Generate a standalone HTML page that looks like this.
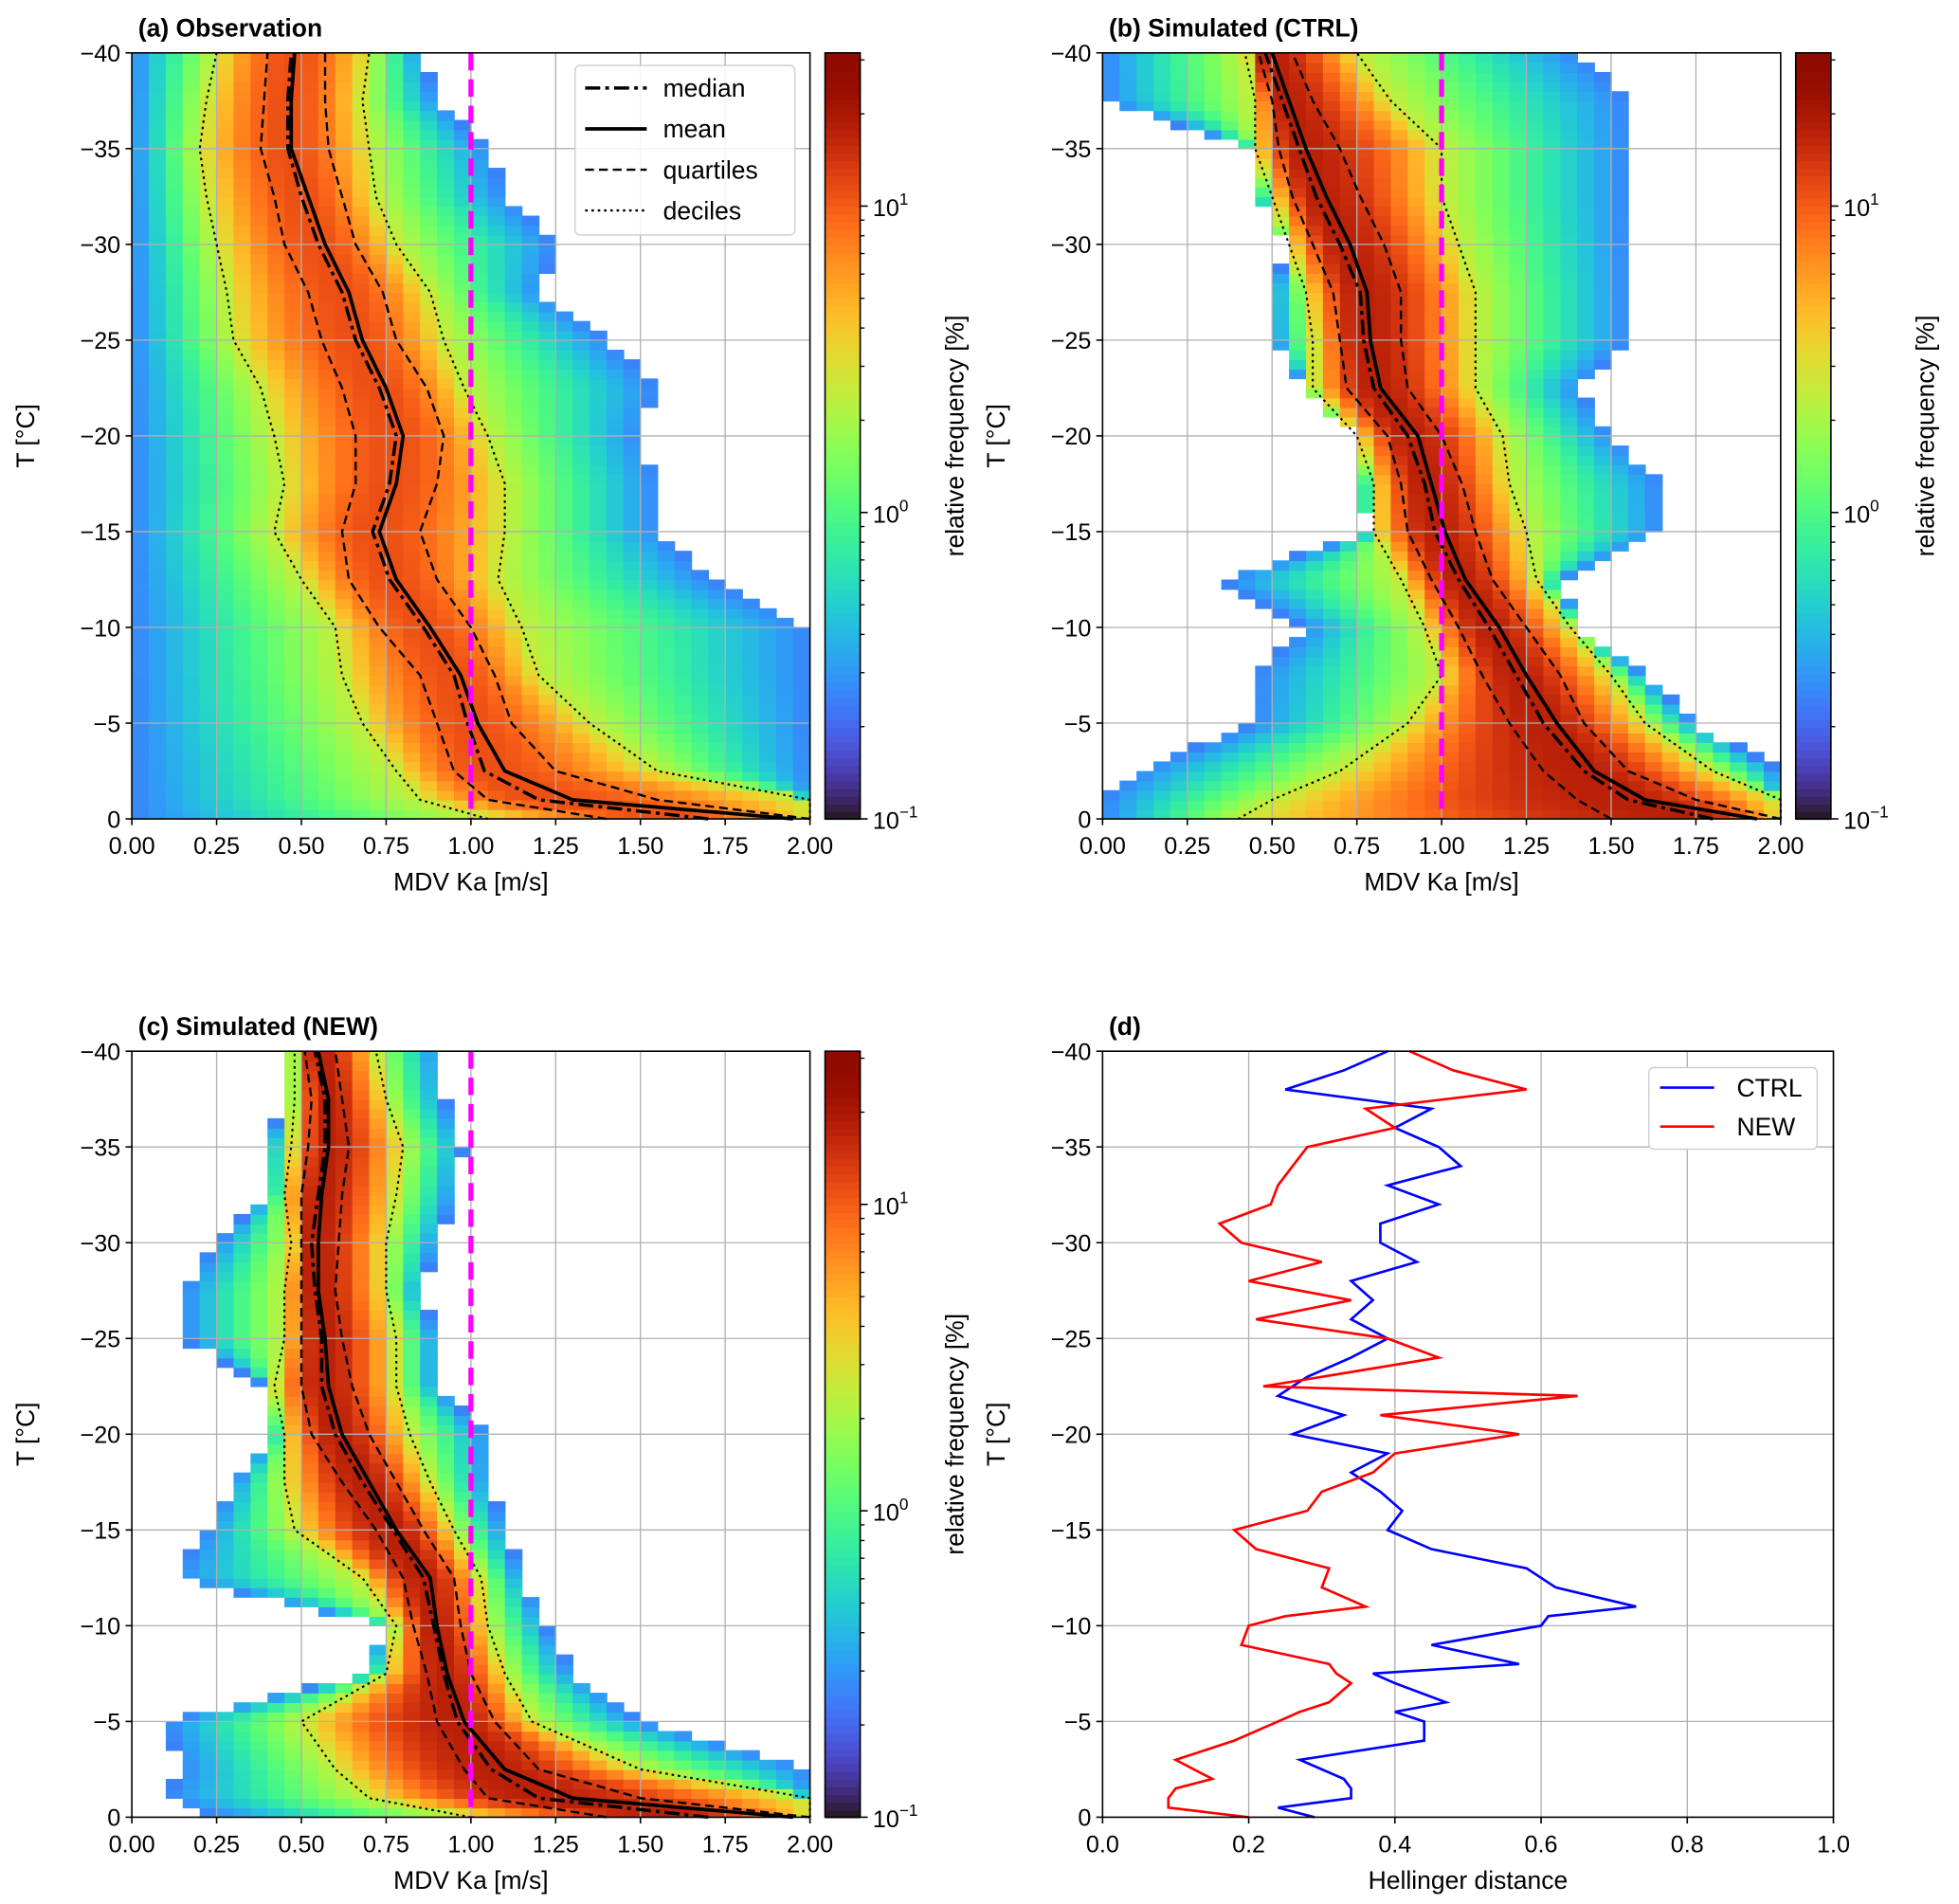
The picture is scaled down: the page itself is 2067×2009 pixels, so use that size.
<!DOCTYPE html>
<html><head><meta charset="utf-8"><style>
html,body{margin:0;padding:0;background:#fff;}
svg{display:block;font-family:"Liberation Sans","DejaVu Sans",sans-serif;}
</style></head><body>
<svg id="fig" width="2067" height="2009" viewBox="0 0 1560 1516" xmlns="http://www.w3.org/2000/svg"></svg>
<script>
// ---- data ----
const Tlev=[0,-1,-2.5,-5,-7.5,-10,-12.5,-15,-17.5,-20,-22.5,-25,-27.5,-30,-32.5,-35,-37.5,-40];
const aMean=[1.95,1.3,1.1,1.02,0.97,0.88,0.78,0.73,0.78,0.8,0.75,0.68,0.64,0.57,0.52,0.47,0.47,0.48];
const aMedian=[1.7,1.2,1.04,0.99,0.95,0.86,0.76,0.71,0.76,0.78,0.73,0.66,0.62,0.55,0.5,0.46,0.46,0.47];
const aQ1=[1.4,1.05,0.95,0.9,0.85,0.73,0.64,0.62,0.66,0.66,0.62,0.56,0.52,0.45,0.42,0.38,0.39,0.4];
const aQ3=[2.0,1.55,1.25,1.12,1.07,1.0,0.9,0.85,0.9,0.92,0.87,0.78,0.74,0.66,0.62,0.58,0.57,0.57];
const aD1=[1.05,0.85,0.78,0.68,0.62,0.6,0.5,0.42,0.45,0.42,0.38,0.3,0.28,0.25,0.22,0.2,0.22,0.25];
const aD9=[2.0,2.0,1.55,1.35,1.2,1.15,1.08,1.1,1.1,1.05,0.98,0.92,0.88,0.78,0.72,0.7,0.68,0.7];
const aLo=[0,0,0,0,0,0,0,0,0,0,0,0,0,0,0,0,0,0];
const aHi=[2,2,2,2,2,2,1.7,1.55,1.55,1.5,1.55,1.4,1.2,1.25,1.1,1.05,0.9,0.85];

const bMean=[1.93,1.6,1.45,1.34,1.25,1.17,1.07,1.01,0.97,0.93,0.82,0.79,0.78,0.73,0.66,0.6,0.55,0.5];
const bMedian=[1.8,1.55,1.42,1.3,1.22,1.14,1.05,0.98,0.95,0.9,0.8,0.77,0.76,0.7,0.63,0.58,0.53,0.48];
const bQ1=[1.5,1.4,1.3,1.2,1.12,1.05,0.97,0.9,0.88,0.84,0.72,0.7,0.68,0.62,0.56,0.52,0.5,0.46];
const bQ3=[2.0,1.75,1.55,1.42,1.35,1.25,1.15,1.1,1.06,1.0,0.9,0.88,0.88,0.83,0.76,0.7,0.62,0.56];
const bD1=[0.4,0.5,0.7,0.9,1.0,0.95,0.88,0.8,0.8,0.75,0.62,0.62,0.6,0.55,0.5,0.45,0.45,0.42];
const bD9=[2.0,2.0,1.8,1.6,1.5,1.38,1.28,1.25,1.2,1.18,1.1,1.1,1.1,1.05,1.0,1.0,0.85,0.75];
const bLo=[0,0,0.1,0.45,0.45,0.6,0.35,0.8,0.75,0.75,0.6,0.5,0.5,0.55,0.45,0.45,0,0];
const bHi=[2,2,2,1.75,1.6,1.4,1.35,1.65,1.65,1.5,1.4,1.55,1.55,1.55,1.55,1.55,1.55,1.4];

const cMean=[1.95,1.3,1.1,0.98,0.93,0.9,0.88,0.78,0.7,0.62,0.58,0.57,0.55,0.55,0.56,0.58,0.58,0.55];
const cMedian=[1.7,1.2,1.06,0.96,0.92,0.89,0.86,0.77,0.68,0.6,0.56,0.56,0.54,0.53,0.55,0.57,0.57,0.54];
const cQ1=[1.4,1.05,0.98,0.9,0.87,0.83,0.8,0.72,0.62,0.53,0.5,0.5,0.5,0.5,0.5,0.52,0.53,0.51];
const cQ3=[2.0,1.5,1.2,1.07,1.0,0.97,0.95,0.86,0.78,0.7,0.65,0.62,0.6,0.61,0.62,0.64,0.62,0.6];
const cD1=[1.0,0.7,0.6,0.5,0.75,0.78,0.68,0.48,0.45,0.45,0.42,0.45,0.45,0.47,0.45,0.47,0.48,0.48];
const cD9=[2.0,2.0,1.5,1.18,1.1,1.05,1.03,0.95,0.88,0.82,0.78,0.78,0.75,0.75,0.78,0.8,0.75,0.72];
const cLo=[0.25,0.1,0.15,0.1,0.7,0.75,0.12,0.22,0.3,0.42,0.4,0.15,0.15,0.25,0.4,0.4,0.45,0.45];
const cHi=[2,2,2,1.5,1.3,1.22,1.15,1.1,1.05,1.05,0.9,0.9,0.85,0.9,0.95,0.98,0.92,0.9];

const hT=[0,-0.5,-1,-1.5,-2,-3,-4,-5,-5.5,-6,-7,-7.5,-8,-9,-10,-10.5,-11,-12,-13,-14,-15,-16,-17,-18,-19,-20,-21,-22,-22.5,-23,-24,-25,-26,-27,-28,-29,-30,-31,-32,-33,-34,-35,-36,-37,-38,-39,-40];
const hCtrl=[0.29,0.24,0.34,0.34,0.33,0.27,0.44,0.44,0.40,0.47,0.40,0.37,0.57,0.45,0.60,0.61,0.73,0.62,0.58,0.45,0.39,0.41,0.38,0.34,0.39,0.26,0.33,0.24,0.26,0.28,0.34,0.39,0.34,0.37,0.34,0.43,0.38,0.38,0.46,0.39,0.49,0.46,0.40,0.45,0.25,0.33,0.39];
const hNew=[0.20,0.09,0.09,0.10,0.15,0.10,0.18,0.24,0.27,0.31,0.34,0.32,0.31,0.19,0.20,0.25,0.36,0.30,0.31,0.21,0.18,0.28,0.30,0.37,0.40,0.57,0.38,0.65,0.22,0.30,0.46,0.39,0.21,0.34,0.20,0.30,0.19,0.16,0.23,0.24,0.26,0.28,0.40,0.36,0.58,0.48,0.42];

const yTicks=[0,-5,-10,-15,-20,-25,-30,-35,-40];
const xTicksMDV=[0,0.25,0.5,0.75,1.0,1.25,1.5,1.75,2.0];
const xTicksH=[0,0.2,0.4,0.6,0.8,1.0];

// ---- helpers ----
const NS="http://www.w3.org/2000/svg";
const fig=document.getElementById('fig');
function el(tag,attrs,parent,text){const e=document.createElementNS(NS,tag);for(const k in attrs)e.setAttribute(k,attrs[k]);if(text!==undefined)e.textContent=text;(parent||fig).appendChild(e);return e;}
function turbo(x){x=Math.max(0,Math.min(1,x));
 const r=0.13572138+x*(4.61539260+x*(-42.66032258+x*(132.13108234+x*(-152.94239396+x*59.28637943))));
 const g=0.09140261+x*(2.19418839+x*(4.84296658+x*(-14.18503333+x*(4.27729857+x*2.82956604))));
 const b=0.10667330+x*(12.64194608+x*(-60.58204836+x*(110.36276771+x*(-89.90310912+x*27.34824973))));
 const c=v=>Math.round(255*Math.max(0,Math.min(1,v)));return `rgb(${c(r)},${c(g)},${c(b)})`;}
function interp(arr,T){for(let i=0;i<Tlev.length-1;i++){if(T<=Tlev[i]&&T>=Tlev[i+1]){const t=(Tlev[i]-T)/(Tlev[i]-Tlev[i+1]);return arr[i]+(arr[i+1]-arr[i])*t;}}return arr[arr.length-1];}
const fmt=v=>(v<0?'\u2212':'')+Math.abs(v);

function axesFrame(g,x0,y0,w,h,xsc,ysc,xt){
  xt.forEach(v=>{const l=el('line',{x1:xsc(v),x2:xsc(v),y1:y0,y2:y0+h,stroke:'#b0b0b0','stroke-width':1},g);
    });
  yTicks.forEach(v=>{const l=el('line',{x1:x0,x2:x0+w,y1:ysc(v),y2:ysc(v),stroke:'#b0b0b0','stroke-width':1},g);
    });
}
function axesDecor(g,x0,y0,w,h,xsc,ysc,xt,xdec,title,xlabel){
  const fr=el('rect',{x:x0,y:y0,width:w,height:h,fill:'none',stroke:'#000','stroke-width':1.2},g);
  
  xt.forEach(v=>{el('line',{x1:xsc(v),x2:xsc(v),y1:y0+h,y2:y0+h+5,stroke:'#000','stroke-width':1.2},g);
    const t=el('text',{x:xsc(v),y:y0+h+28,'font-size':19,'text-anchor':'middle'},g,v.toFixed(xdec));
    });
  yTicks.forEach(v=>{el('line',{x1:x0-5,x2:x0,y1:ysc(v),y2:ysc(v),stroke:'#000','stroke-width':1.2},g);
    const t=el('text',{x:x0-9,y:ysc(v)+7,'font-size':19,'text-anchor':'end'},g,fmt(v));
    });
  const tt=el('text',{x:x0+5,y:y0-13,'font-size':20,'font-weight':'bold'},g,title);
  
  const xl=el('text',{x:x0+w/2,y:y0+h+57,'font-size':20,'text-anchor':'middle'},g,xlabel);
  
  const yl=el('text',{x:0,y:0,'font-size':20,'text-anchor':'middle',transform:`translate(${x0-78},${y0+h/2}) rotate(-90)`},g,'T [°C]');
  
}

function histPanel(name,x0,y0,title,P,peak){
  const w=540,h=610;
  const g=el('g',{});
  const xsc=v=>x0+v/2*w;
  const Y=T=>y0+h-(-T)/40*h;
  const hm=el('g',{},g);
  for(let r=0;r<80;r++){
    const Tc=-(r+0.5)*0.5;
    const med=interp(P.median,Tc),d1=interp(P.d1,Tc),d9=interp(P.d9,Tc),lo=interp(P.lo,Tc),hi=interp(P.hi,Tc);
    for(let c=0;c<40;c++){
      const v=(c+0.5)*0.05;
      if(v<lo||v>hi)continue;
      let f;
      if(v>=d1&&v<=d9){const d=v<med?(med-v)/Math.max(0.02,med-d1):(v-med)/Math.max(0.02,d9-med);f=peak-(peak-0.4)*d*d;}
      else if(v<d1){const t=(d1-v)/Math.max(0.05,d1-lo);f=0.4-1.0*t;}
      else {const t=(v-d9)/Math.max(0.05,hi-d9);f=0.4-1.0*t;}
      const cell=el('rect',{x:xsc(c*0.05),y:Y(-(r+1)*0.5),width:w/40+0.6,height:h/80+0.6,fill:turbo((f+1)/2.5)},hm);
      
    }
  }
  axesFrame(g,x0,y0,w,h,xsc,Y,xTicksMDV);
  const T2=[];for(let T=0;T>=-40;T-=0.5)T2.push(T);
  const path=arr=>T2.map((T,i)=>(i?'L':'M')+xsc(Math.min(2,interp(arr,T))).toFixed(1)+','+Y(T).toFixed(1)).join('');
  const styles=[['d1','decile-line-low','1.6','2,3'],['d9','decile-line-high','1.6','2,3'],
    ['q1','quartile-line-low','1.8','7,4'],['q3','quartile-line-high','1.8','7,4'],
    ['median','median-line','2.6','12,4,3,4'],['mean','mean-line','2.8','']];
  styles.forEach(s=>{const p=el('path',{d:path(P[s[0]]),fill:'none',stroke:'#000','stroke-width':s[2],'stroke-dasharray':s[3]||'none'},g);
    });
  const mg=el('line',{x1:xsc(1),x2:xsc(1),y1:y0,y2:y0+h,stroke:'#ff00ff','stroke-width':4,'stroke-dasharray':'14,7'},g);
  
  axesDecor(g,x0,y0,w,h,xsc,Y,xTicksMDV,2,title,'MDV  Ka [m/s]');
  const cx=x0+w+12,cw=28;
  const cb=el('g',{},g);
  const N=100;for(let i=0;i<N;i++){el('rect',{x:cx,y:y0+h-(i+1)*h/N,width:cw,height:h/N+0.8,fill:turbo((i+0.5)/N)},cb);}
  el('rect',{x:cx,y:y0,width:cw,height:h,fill:'none',stroke:'#000','stroke-width':1.2},cb);
  const cy=lf=>y0+h-(lf+1)/2.5*h;
  [-1,0,1].forEach(e=>{el('line',{x1:cx+cw,x2:cx+cw+6,y1:cy(e),y2:cy(e),stroke:'#000','stroke-width':1.2},cb);
    const t=el('text',{x:cx+cw+10,y:cy(e)+8,'font-size':19},cb,'10');
    el('tspan',{dy:-9,'font-size':13},t,String(e).replace('-','\u2212'));
    });
  for(let e=-1;e<=1;e++)for(let m=2;m<=9;m++){const lf=e+Math.log10(m);if(lf>1.5)continue;
    el('line',{x1:cx+cw,x2:cx+cw+3.5,y1:cy(lf),y2:cy(lf),stroke:'#000','stroke-width':1},cb);}
  const cl=el('text',{x:0,y:0,'font-size':20,'text-anchor':'middle',transform:`translate(${cx+cw+82},${y0+h/2}) rotate(-90)`},cb,'relative frequency [%]');
  
  return g;
}

histPanel('panel-a-observation',105,42,'(a) Observation',{mean:aMean,median:aMedian,q1:aQ1,q3:aQ3,d1:aD1,d9:aD9,lo:aLo,hi:aHi},1.05);
histPanel('panel-b-ctrl',878,42,'(b) Simulated (CTRL)',{mean:bMean,median:bMedian,q1:bQ1,q3:bQ3,d1:bD1,d9:bD9,lo:bLo,hi:bHi},1.25);
histPanel('panel-c-new',105,837,'(c) Simulated (NEW)',{mean:cMean,median:cMedian,q1:cQ1,q3:cQ3,d1:cD1,d9:cD9,lo:cLo,hi:cHi},1.25);

(function(){
  const g=el('g',{});
  el('rect',{x:458,y:52,width:175,height:135,rx:4,fill:'#fff','fill-opacity':0.85,stroke:'#ccc','stroke-width':1},g);
  const items=[['median','12,4,3,4',2.6],['mean','',2.8],['quartiles','7,4',1.8],['deciles','2,3',1.8]];
  items.forEach((it,i)=>{const y=70+i*32.5;
    el('line',{x1:466,x2:515,y1:y,y2:y,stroke:'#000','stroke-width':it[2],'stroke-dasharray':it[1]||'none'},g);
    const t=el('text',{x:528,y:y+7,'font-size':20},g,it[0]);});
})();

(function(){
  const x0=878,y0=837,w=582,h=610;
  const g=el('g',{});
  const xsc=v=>x0+v*w, Y=T=>y0+h-(-T)/40*h;
  axesFrame(g,x0,y0,w,h,xsc,Y,xTicksH);
  const line=(arr,col,name)=>{const p=el('path',{d:hT.map((T,i)=>(i?'L':'M')+xsc(arr[i]).toFixed(1)+','+Y(T).toFixed(1)).join(''),fill:'none',stroke:col,'stroke-width':2},g);
    };
  line(hCtrl,'#0000ff','ctrl-line');line(hNew,'#ff0000','new-line');
  axesDecor(g,x0,y0,w,h,xsc,Y,xTicksH,1,'(d)','Hellinger distance');
  el('rect',{x:1313,y:850,width:134,height:65,rx:4,fill:'#fff',stroke:'#ccc','stroke-width':1},g);
  [['CTRL','#0000ff',866],['NEW','#ff0000',897]].forEach(it=>{
    el('line',{x1:1322,x2:1365,y1:it[2],y2:it[2],stroke:it[1],'stroke-width':2},g);
    const t=el('text',{x:1383,y:it[2]+7,'font-size':20},g,it[0]);});
})();
</script>
</body></html>
